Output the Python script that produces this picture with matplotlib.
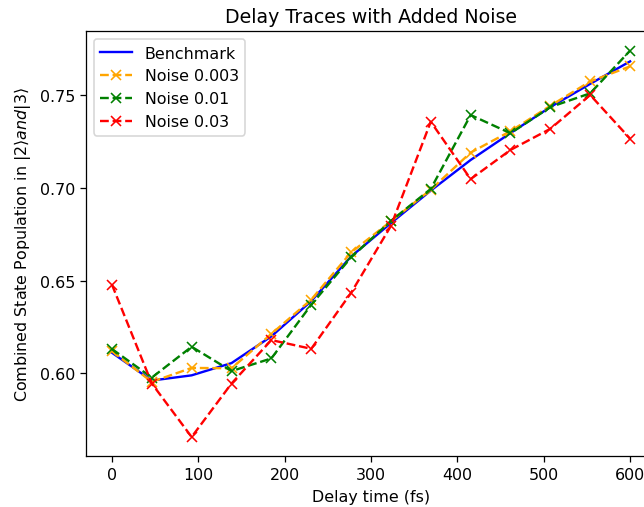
import numpy as np
import matplotlib
matplotlib.use('Agg')
import matplotlib.pyplot as plt

delay_fs = [0, 46.2, 92.3, 138.5, 184.6, 230.8, 276.9, 323.1, 369.2, 415.4, 461.5, 507.7, 553.8, 600]

benchmark = [0.6112, 0.5962, 0.5990, 0.6056, 0.6200, 0.6390, 0.6630, 0.6810,
             0.6985, 0.7150, 0.7295, 0.7435, 0.7560, 0.7681]
noise_0003 = [0.6120, 0.5955, 0.6030, 0.6028, 0.6213, 0.6398, 0.6652, 0.6820,
              0.6990, 0.7190, 0.7305, 0.7442, 0.7573, 0.7654]
noise_001 = [0.6132, 0.5978, 0.6144, 0.6013, 0.6081, 0.6370, 0.6625, 0.6822,
             0.6994, 0.7392, 0.7294, 0.7435, 0.7509, 0.7739]
noise_003 = [0.6479, 0.5946, 0.5658, 0.5946, 0.6180, 0.6133, 0.6434, 0.6795,
             0.7356, 0.7047, 0.7204, 0.7318, 0.7500, 0.7265]

DPI = 114
fig = plt.figure(figsize=(644/DPI, 508/DPI), dpi=DPI)
# axes runs off the right edge, like the cropped original
ax = fig.add_axes([86/644, 50.7/508, 570/644, 425/508])

ax.plot(delay_fs, benchmark, color='blue', label='Benchmark')
ax.plot(delay_fs, noise_0003, '--x', color='orange', label='Noise 0.003')
ax.plot(delay_fs, noise_001, '--x', color='green', label='Noise 0.01')
ax.plot(delay_fs, noise_003, '--x', color='red', label='Noise 0.03')

ax.set_title('Delay Traces with Added Noise')
ax.set_xlabel('Delay time (fs)')
ax.set_ylabel(r'Combined State Population in $|2\rangle and |3\rangle$')
ax.legend(loc='upper left')

fig.savefig('out.png', dpi=DPI)
